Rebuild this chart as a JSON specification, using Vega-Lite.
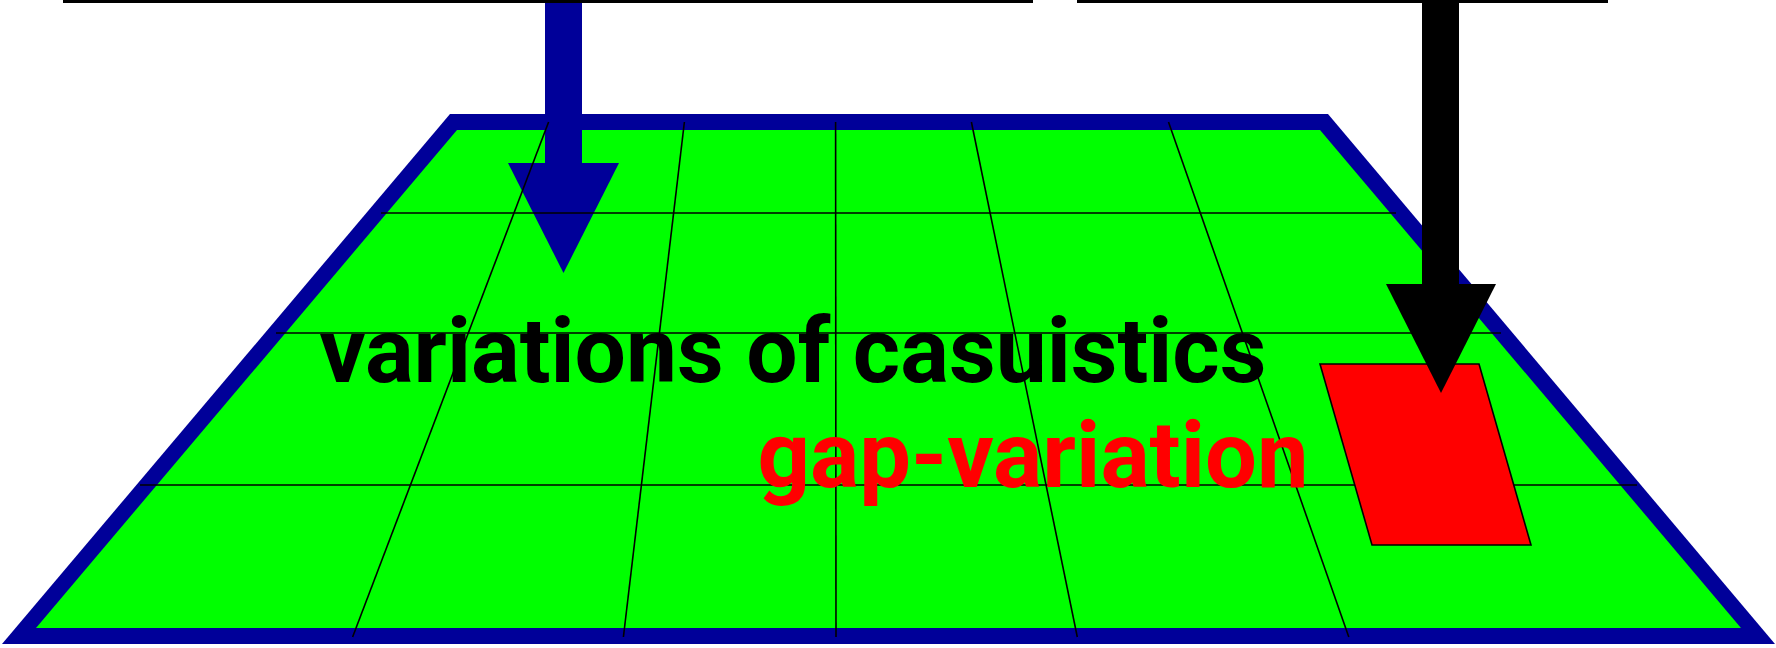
{
  "$schema": "https://vega.github.io/schema/vega-lite/v6.json",
  "width": 1776,
  "height": 648,
  "padding": 0,
  "autosize": {"type": "fit", "contains": "padding"},
  "background": "white",
  "config": {"view": {"stroke": null}},
  "datasets": {
    "outer": [{"y": 114, "x": 450, "x2": 1328}, {"y": 644, "x": 2, "x2": 1775}],
    "inner": [{"y": 130, "x": 457, "x2": 1320}, {"y": 628, "x": 36, "x2": 1741}],
    "blueShaft": [{"x": 545, "x2": 582, "y": 0, "y2": 164}],
    "blueHead": [{"y": 163, "x": 508, "x2": 619}, {"y": 273, "x": 563.5, "x2": 563.5}],
    "grid": [
      {"x": 381, "y": 213, "x2": 1396, "y2": 213},
      {"x": 276, "y": 333, "x2": 1501, "y2": 333},
      {"x": 140, "y": 485, "x2": 1637, "y2": 485},
      {"x": 548.6, "y": 122, "x2": 352.6, "y2": 637},
      {"x": 684.4, "y": 122, "x2": 623.4, "y2": 637},
      {"x": 835.6, "y": 122, "x2": 836, "y2": 637},
      {"x": 971.4, "y": 122, "x2": 1077.3, "y2": 637},
      {"x": 1168.5, "y": 122, "x2": 1348.8, "y2": 637}
    ],
    "redShape": [{"y": 364, "x": 1320, "x2": 1479}, {"y": 545, "x": 1372, "x2": 1531}],
    "blackShaft": [{"x": 1422, "x2": 1459, "y": 0, "y2": 285}],
    "blackHead": [{"y": 284, "x": 1386, "x2": 1496}, {"y": 393, "x": 1441, "x2": 1441}],
    "label1": [{"x": 793, "y": 382, "label": "variations of casuistics"}],
    "label2": [{"x": 1033, "y": 487, "label": "gap-variation"}],
    "topLines": [
      {"x": 63, "x2": 1033, "y": 1.5, "y2": 1.5},
      {"x": 1077, "x2": 1608, "y": 1.5, "y2": 1.5}
    ]
  },
  "layer": [
    {
      "data": {"name": "outer"},
      "mark": {"type": "area", "orient": "horizontal", "color": "#000099", "opacity": 1},
      "encoding": {
        "y": {"field": "y", "type": "quantitative", "scale": {"domain": [0, 648], "reverse": true, "nice": false, "zero": false}, "axis": null},
        "x": {"field": "x", "type": "quantitative", "scale": {"domain": [0, 1776], "nice": false, "zero": false}, "axis": null},
        "x2": {"field": "x2"}
      }
    },
    {
      "data": {"name": "inner"},
      "mark": {"type": "area", "orient": "horizontal", "color": "#00ff00", "opacity": 1},
      "encoding": {
        "y": {"field": "y", "type": "quantitative", "scale": {"domain": [0, 648], "reverse": true, "nice": false, "zero": false}, "axis": null},
        "x": {"field": "x", "type": "quantitative", "scale": {"domain": [0, 1776], "nice": false, "zero": false}, "axis": null},
        "x2": {"field": "x2"}
      }
    },
    {
      "data": {"name": "blueShaft"},
      "mark": {"type": "rect", "color": "#000099", "opacity": 1},
      "encoding": {
        "x": {"field": "x", "type": "quantitative", "scale": {"domain": [0, 1776], "nice": false, "zero": false}, "axis": null},
        "x2": {"field": "x2"},
        "y": {"field": "y", "type": "quantitative", "scale": {"domain": [0, 648], "reverse": true, "nice": false, "zero": false}, "axis": null},
        "y2": {"field": "y2"}
      }
    },
    {
      "data": {"name": "blueHead"},
      "mark": {"type": "area", "orient": "horizontal", "color": "#000099", "opacity": 1},
      "encoding": {
        "y": {"field": "y", "type": "quantitative", "scale": {"domain": [0, 648], "reverse": true, "nice": false, "zero": false}, "axis": null},
        "x": {"field": "x", "type": "quantitative", "scale": {"domain": [0, 1776], "nice": false, "zero": false}, "axis": null},
        "x2": {"field": "x2"}
      }
    },
    {
      "data": {"name": "grid"},
      "mark": {"type": "rule", "color": "black", "strokeWidth": 1.6},
      "encoding": {
        "x": {"field": "x", "type": "quantitative", "scale": {"domain": [0, 1776], "nice": false, "zero": false}, "axis": null},
        "x2": {"field": "x2"},
        "y": {"field": "y", "type": "quantitative", "scale": {"domain": [0, 648], "reverse": true, "nice": false, "zero": false}, "axis": null},
        "y2": {"field": "y2"}
      }
    },
    {
      "data": {"name": "label1"},
      "mark": {"type": "text", "font": "Roboto", "fontWeight": "bold", "fontSize": 91, "color": "black", "align": "center", "baseline": "alphabetic"},
      "encoding": {
        "x": {"field": "x", "type": "quantitative", "scale": {"domain": [0, 1776], "nice": false, "zero": false}, "axis": null},
        "y": {"field": "y", "type": "quantitative", "scale": {"domain": [0, 648], "reverse": true, "nice": false, "zero": false}, "axis": null},
        "text": {"field": "label"}
      }
    },
    {
      "data": {"name": "label2"},
      "mark": {"type": "text", "font": "Roboto", "fontWeight": "bold", "fontSize": 92, "color": "#ff0000", "align": "center", "baseline": "alphabetic"},
      "encoding": {
        "x": {"field": "x", "type": "quantitative", "scale": {"domain": [0, 1776], "nice": false, "zero": false}, "axis": null},
        "y": {"field": "y", "type": "quantitative", "scale": {"domain": [0, 648], "reverse": true, "nice": false, "zero": false}, "axis": null},
        "text": {"field": "label"}
      }
    },
    {
      "data": {"name": "redShape"},
      "mark": {"type": "area", "orient": "horizontal", "fill": "#ff0000", "stroke": "black", "strokeWidth": 1.6, "opacity": 1},
      "encoding": {
        "y": {"field": "y", "type": "quantitative", "scale": {"domain": [0, 648], "reverse": true, "nice": false, "zero": false}, "axis": null},
        "x": {"field": "x", "type": "quantitative", "scale": {"domain": [0, 1776], "nice": false, "zero": false}, "axis": null},
        "x2": {"field": "x2"}
      }
    },
    {
      "data": {"name": "blackShaft"},
      "mark": {"type": "rect", "color": "black", "opacity": 1},
      "encoding": {
        "x": {"field": "x", "type": "quantitative", "scale": {"domain": [0, 1776], "nice": false, "zero": false}, "axis": null},
        "x2": {"field": "x2"},
        "y": {"field": "y", "type": "quantitative", "scale": {"domain": [0, 648], "reverse": true, "nice": false, "zero": false}, "axis": null},
        "y2": {"field": "y2"}
      }
    },
    {
      "data": {"name": "blackHead"},
      "mark": {"type": "area", "orient": "horizontal", "color": "black", "opacity": 1},
      "encoding": {
        "y": {"field": "y", "type": "quantitative", "scale": {"domain": [0, 648], "reverse": true, "nice": false, "zero": false}, "axis": null},
        "x": {"field": "x", "type": "quantitative", "scale": {"domain": [0, 1776], "nice": false, "zero": false}, "axis": null},
        "x2": {"field": "x2"}
      }
    },
    {
      "data": {"name": "topLines"},
      "mark": {"type": "rule", "color": "black", "strokeWidth": 3},
      "encoding": {
        "x": {"field": "x", "type": "quantitative", "scale": {"domain": [0, 1776], "nice": false, "zero": false}, "axis": null},
        "x2": {"field": "x2"},
        "y": {"field": "y", "type": "quantitative", "scale": {"domain": [0, 648], "reverse": true, "nice": false, "zero": false}, "axis": null},
        "y2": {"field": "y2"}
      }
    }
  ]
}
